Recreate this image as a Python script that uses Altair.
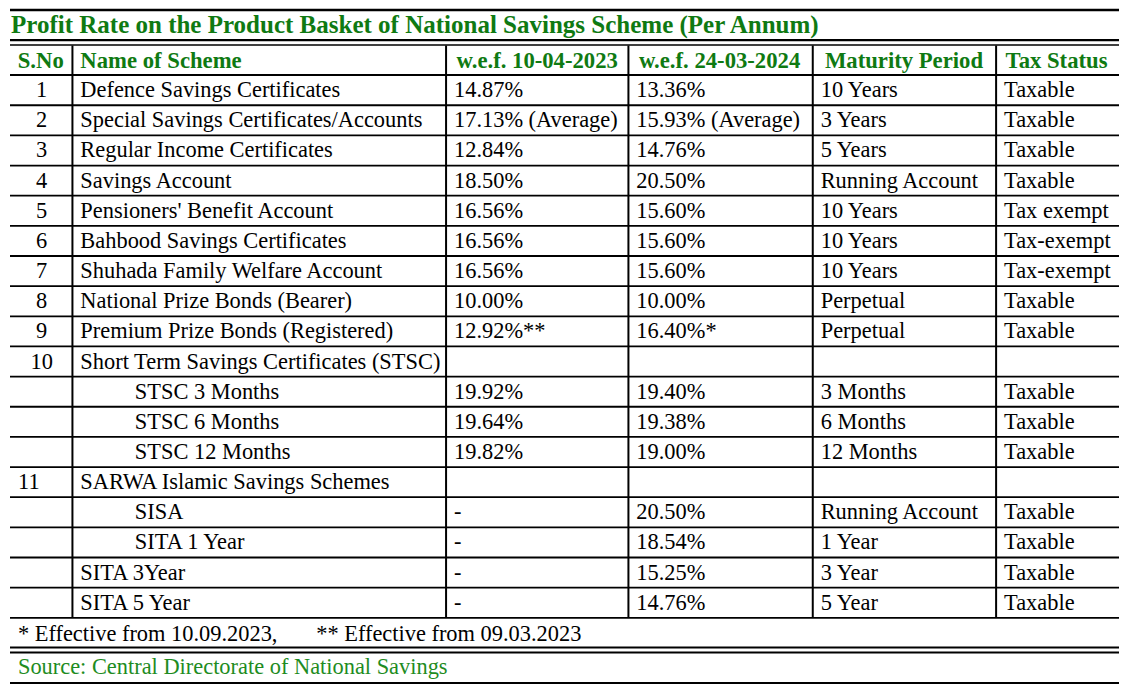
import altair as alt
import pandas as pd

# ---------------- data ----------------
TITLE = "Profit Rate on the Product Basket of National Savings Scheme (Per Annum)"
HEADERS = ["S.No", "Name of Scheme", "w.e.f. 10-04-2023", "w.e.f. 24-03-2024",
           "Maturity Period", "Tax Status"]
SNO = ["1", "2", "3", "4", "5", "6", "7", "8", "9", "10", "", "", "", "11", "", "", "", ""]
SCHEMES = [
    "Defence Savings Certificates",
    "Special Savings Certificates/Accounts",
    "Regular Income Certificates",
    "Savings Account",
    "Pensioners' Benefit Account",
    "Bahbood Savings Certificates",
    "Shuhada Family Welfare Account",
    "National Prize Bonds (Bearer)",
    "Premium Prize Bonds (Registered)",
    "Short Term Savings Certificates (STSC)",
    "STSC 3 Months",
    "STSC 6 Months",
    "STSC 12 Months",
    "SARWA Islamic Savings Schemes",
    "SISA",
    "SITA 1 Year",
    "SITA 3Year",
    "SITA 5 Year",
]
RATE_2023 = ["14.87%", "17.13% (Average)", "12.84%", "18.50%", "16.56%", "16.56%", "16.56%",
             "10.00%", "12.92%**", "", "19.92%", "19.64%", "19.82%", "", "-", "-", "-", "-"]
RATE_2024 = ["13.36%", "15.93% (Average)", "14.76%", "20.50%", "15.60%", "15.60%", "15.60%",
             "10.00%", "16.40%*", "", "19.40%", "19.38%", "19.00%", "", "20.50%", "18.54%",
             "15.25%", "14.76%"]
MATURITY = ["10 Years", "3 Years", "5 Years", "Running Account", "10 Years", "10 Years",
            "10 Years", "Perpetual", "Perpetual", "", "3 Months", "6 Months", "12 Months", "",
            "Running Account", "1 Year", "3 Year", "5 Year"]
TAX = ["Taxable", "Taxable", "Taxable", "Taxable", "Tax exempt", "Tax-exempt", "Tax-exempt",
       "Taxable", "Taxable", "", "Taxable", "Taxable", "Taxable", "", "Taxable", "Taxable",
       "Taxable", "Taxable"]
SUB_ITEMS = ["STSC 3 Months", "STSC 6 Months", "STSC 12 Months", "SISA", "SITA 1 Year"]
FOOTNOTES = ["* Effective from 10.09.2023,", "** Effective from 09.03.2023"]
SOURCE = "Source: Central Directorate of National Savings"

# ---------------- layout (reference pixel grid) ----------------
LEFT, RIGHT = 8, 1127
COL_EDGES = [LEFT, 71, 448, 632, 818, 1003, RIGHT]
HEADER_TOP = 41
ROW_TOP = 71
ROW_H = 30.55
N = len(SCHEMES)
TABLE_BOTTOM = ROW_TOP + ROW_H * N
PAD = 8
INDENT_X = 134
SNO_CENTER = 40
SNO_CENTER_11 = 27
HEADER_CENTERS = [39, None, 540, 724, 910, 1064]
FOOT_X = [16, 317]
GREEN = "#0f7a12"
GREEN_SRC = "#1e8c22"
FONT = "Liberation Serif"
BODY_SIZE = 22.4
HEAD_SIZE = 22.7
TITLE_SIZE = 25

def row_mid(i):
    return ROW_TOP + ROW_H * i + ROW_H / 2

# rules
rules = []
def hline(y, w, x0=LEFT, x1=RIGHT):
    rules.append(dict(x=x0, x2=x1, y=y, y2=y, w=w))
def vline(x, y0, y1, w):
    rules.append(dict(x=x, x2=x, y=y0, y2=y1, w=w))

hline(5, 2.5)
hline(35.5, 2.2)
hline(40.5, 1.5)
hline(ROW_TOP, 2)
for k in range(1, N + 1):
    hline(ROW_TOP + ROW_H * k, 1.8)
hline(651, 2)
hline(656, 2)
hline(687, 2.2)
for xe in COL_EDGES[1:-1]:
    vline(xe, HEADER_TOP, TABLE_BOTTOM, 2)
rules_df = pd.DataFrame(rules)

# body text (left aligned)
body = []
for i in range(N):
    y = row_mid(i)
    name = SCHEMES[i]
    body.append(dict(x=(INDENT_X if name in SUB_ITEMS else COL_EDGES[1] + PAD), y=y, t=name))
    for c, col in enumerate([RATE_2023, RATE_2024, MATURITY, TAX]):
        if col[i]:
            body.append(dict(x=COL_EDGES[c + 2] + PAD, y=y, t=col[i]))
foot_y = (TABLE_BOTTOM + 651) / 2 + 1
for fx, ft in zip(FOOT_X, FOOTNOTES):
    body.append(dict(x=fx, y=foot_y, t=ft))
body_df = pd.DataFrame(body)

sno_df = pd.DataFrame([
    dict(x=(SNO_CENTER_11 if s == "11" else SNO_CENTER), y=row_mid(i), t=s)
    for i, s in enumerate(SNO) if s
])

hdr_mid = (HEADER_TOP + ROW_TOP) / 2 + 1
hdr_center_df = pd.DataFrame([
    dict(x=HEADER_CENTERS[j], y=hdr_mid, t=h) for j, h in enumerate(HEADERS)
    if HEADER_CENTERS[j] is not None
])
hdr_left_df = pd.DataFrame([dict(x=COL_EDGES[1] + PAD, y=hdr_mid, t=HEADERS[1])])
title_df = pd.DataFrame([dict(x=9, y=20, t=TITLE)])
source_df = pd.DataFrame([dict(x=16, y=671, t=SOURCE)])

xs = alt.Scale(domain=[LEFT, RIGHT], nice=False, zero=False)
ys = alt.Scale(domain=[4, 688], nice=False, zero=False, reverse=True)

def X(f="x"):
    return alt.X(f"{f}:Q", scale=xs, axis=None)

def Y(f="y"):
    return alt.Y(f"{f}:Q", scale=ys, axis=None)

rule_layer = alt.Chart(rules_df).mark_rule(color="black").encode(
    x=X(), x2="x2:Q", y=Y(), y2="y2:Q",
    strokeWidth=alt.StrokeWidth("w:Q", scale=None, legend=None),
)

def text_layer(df, align, size, weight, color):
    return alt.Chart(df).mark_text(
        align=align, baseline="middle", font=FONT, fontSize=size,
        fontWeight=weight, color=color
    ).encode(x=X(), y=Y(), text="t:N")

chart = alt.layer(
    rule_layer,
    text_layer(body_df, "left", BODY_SIZE, "normal", "black"),
    text_layer(sno_df, "center", BODY_SIZE, "normal", "black"),
    text_layer(hdr_center_df, "center", HEAD_SIZE, "bold", GREEN),
    text_layer(hdr_left_df, "left", HEAD_SIZE, "bold", GREEN),
    text_layer(title_df, "left", TITLE_SIZE, "bold", GREEN),
    text_layer(source_df, "left", BODY_SIZE, "normal", GREEN_SRC),
).properties(
    width=1113, height=677,
    autosize=alt.AutoSizeParams(type="fit", contains="padding"),
    padding=0,
    background="white",
).configure_view(stroke=None)

chart.save("out.html", embed_options={"renderer": "svg", "actions": False})
